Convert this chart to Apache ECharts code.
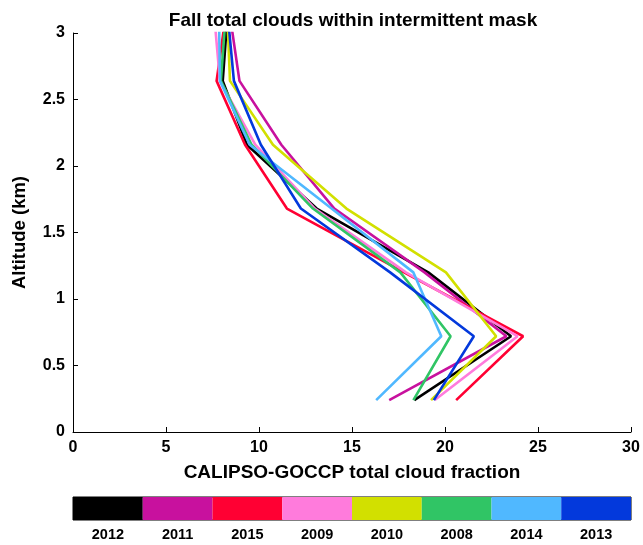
<!DOCTYPE html>
<html>
<head>
<meta charset="utf-8">
<script src="https://cdn.jsdelivr.net/npm/echarts@6/dist/echarts.min.js"></script>
<style>
html,body{margin:0;padding:0;background:#fff;}
#chart{width:643px;height:545px;}
</style>
</head>
<body>
<div id="chart"></div>
<script>
// Altitude levels (km)
var altitudes = [0.24, 0.72, 1.2, 1.68, 2.16, 2.64, 3.12];
// Year labels in colourbar order
var years = ['2012', '2011', '2015', '2009', '2010', '2008', '2014', '2013'];
var yearColors = ['#000000', '#c8119e', '#ff0033', '#ff7bdc', '#d2e000', '#30c565', '#50b8ff', '#0339dc'];
// Total cloud fraction at each altitude, per year
var cf2012 = [18.35, 23.55, 19.1, 13.1, 9.35, 8.05, 8.3];
var cf2011 = [17.0, 23.3, 18.9, 14.05, 11.2, 8.95, 8.45];
var cf2015 = [20.6, 24.2, 17.8, 11.5, 9.25, 7.72, 8.2];
var cf2009 = [19.45, 23.9, 17.9, 13.0, 9.8, 7.9, 7.6];
var cf2010 = [19.25, 22.75, 20.05, 14.7, 10.75, 8.44, 8.3];
var cf2008 = [18.3, 20.3, 17.6, 12.9, 9.6, 7.95, 8.2];
var cf2014 = [16.3, 19.8, 18.3, 13.9, 9.5, 7.9, 7.85];
var cf2013 = [19.4, 21.55, 17.05, 12.25, 10.1, 8.65, 8.33];
var xTicks = [0, 5, 10, 15, 20, 25, 30];

var seriesValues = [cf2012, cf2011, cf2015, cf2009, cf2010, cf2008, cf2014, cf2013];

var FONT = 'Liberation Sans';
var chart = echarts.init(document.getElementById('chart'), null, {renderer: 'canvas'});

var lineSeries = seriesValues.map(function (vals, i) {
  return {
    name: years[i],
    type: 'line',
    xAxisIndex: 0,
    yAxisIndex: 0,
    showSymbol: false,
    symbol: 'none',
    clip: true,
    animation: false,
    lineStyle: {color: yearColors[i], width: 2.6},
    itemStyle: {color: yearColors[i]},
    data: vals.map(function (v, k) { return [v, altitudes[k]]; })
  };
});

var barSeries = {
  type: 'bar',
  xAxisIndex: 1,
  yAxisIndex: 1,
  barCategoryGap: 0,
  barGap: 0,
  animation: false,
  silent: true,
  data: years.map(function (y, i) {
    return {value: 1, itemStyle: {color: yearColors[i]}};
  })
};

var option = {
  backgroundColor: '#ffffff',
  animation: false,
  title: {
    text: 'Fall total clouds within intermittent mask',
    left: 348,
    top: 6,
    textAlign: 'center',
    textStyle: {fontFamily: FONT, fontWeight: 'bold', fontSize: 19, color: '#000'}
  },
  grid: [
    {left: 73, right: 12, top: 33, bottom: 113, show: false},
    {left: 73, right: 12, top: 497, height: 23, show: true, borderColor: '#000', borderWidth: 1, backgroundColor: 'transparent'}
  ],
  xAxis: [
    {
      type: 'value', gridIndex: 0, min: xTicks[0], max: xTicks[xTicks.length - 1], interval: 5,
      name: 'CALIPSO-GOCCP total cloud fraction',
      nameLocation: 'middle', nameGap: 31,
      nameTextStyle: {fontFamily: FONT, fontWeight: 'bold', fontSize: 19, color: '#000'},
      axisLine: {show: true, lineStyle: {color: '#000', width: 1}},
      axisTick: {show: true, inside: true, length: 5, lineStyle: {color: '#000'}},
      axisLabel: {fontFamily: FONT, fontWeight: 'bold', fontSize: 16, color: '#000', margin: 8},
      splitLine: {show: false}
    },
    {
      type: 'category', gridIndex: 1, data: years,
      axisLine: {show: false},
      axisTick: {show: true, inside: true, alignWithLabel: true, length: 5, lineStyle: {color: '#000'}},
      axisLabel: {fontFamily: FONT, fontWeight: 'bold', fontSize: 14.5, color: '#000', margin: 7},
      splitLine: {show: false}
    }
  ],
  yAxis: [
    {
      type: 'value', gridIndex: 0, min: 0, max: 3, interval: 0.5,
      name: 'Altitude (km)',
      nameLocation: 'middle', nameGap: 44,
      nameTextStyle: {fontFamily: FONT, fontWeight: 'bold', fontSize: 18.5, color: '#000'},
      axisLine: {show: true, lineStyle: {color: '#000', width: 1}},
      axisTick: {show: true, inside: true, length: 5, lineStyle: {color: '#000'}},
      axisLabel: {fontFamily: FONT, fontWeight: 'bold', fontSize: 16, color: '#000', margin: 8},
      splitLine: {show: false}
    },
    {
      type: 'value', gridIndex: 1, min: 0, max: 1,
      show: false, splitLine: {show: false}
    }
  ],
  series: lineSeries.concat([barSeries])
};
chart.setOption(option);
</script>
</body>
</html>
